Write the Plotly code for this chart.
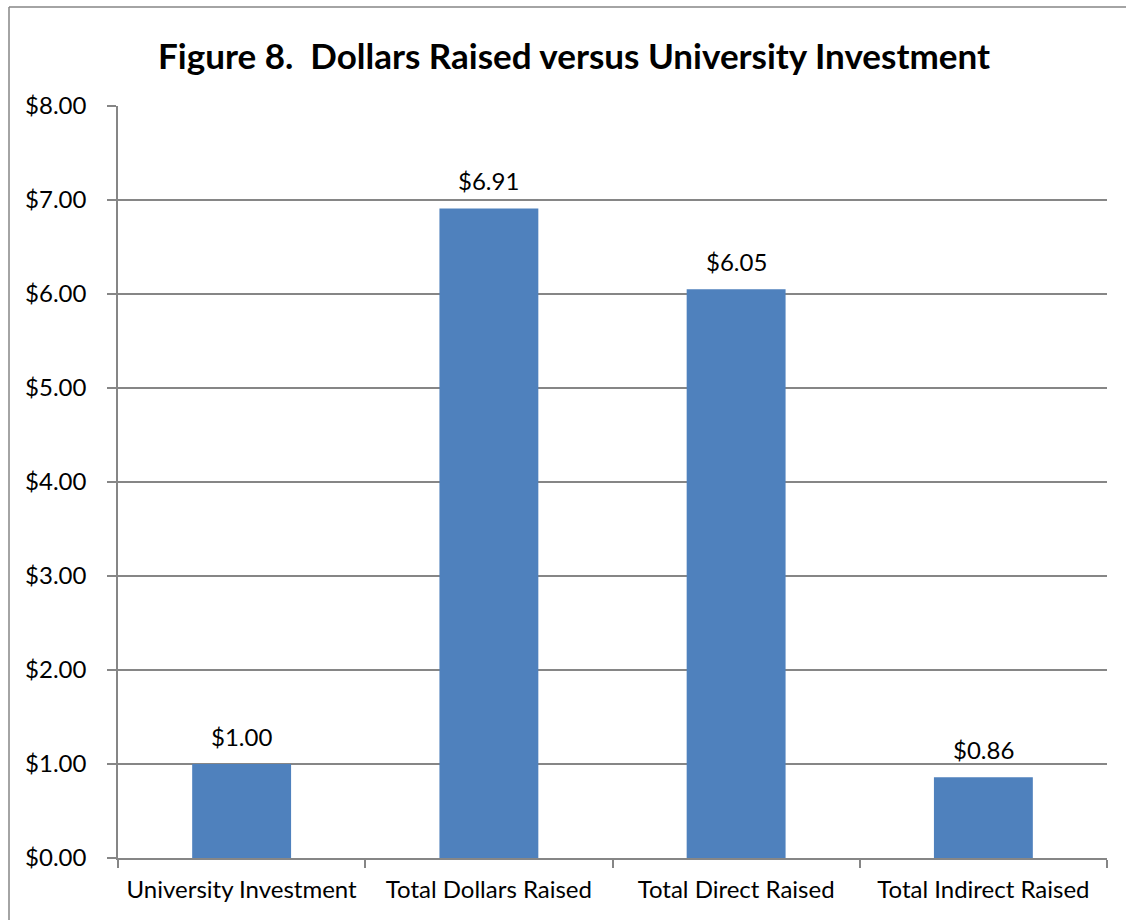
import plotly.graph_objects as go

categories = ["University Investment", "Total Dollars Raised", "Total Direct Raised", "Total Indirect Raised"]
values = [1.00, 6.91, 6.05, 0.86]
tick_values = [0, 1, 2, 3, 4, 5, 6, 7, 8]
tick_labels = ["$%.2f" % v for v in tick_values]
value_labels = ["$%.2f" % v for v in values]

W, H = 1126, 920
L, R, T, B = 118, 19, 106, 62
plot_w = W - L - R
plot_h = H - T - B

FONT = "Lato"
GRID = "#868686"

fig = go.Figure(
    go.Bar(
        x=categories,
        y=values,
        marker=dict(color="#4F81BD", line=dict(color="#4F81BD", width=0)),
        width=0.4,
        hoverinfo="x+y",
    )
)

# value labels above each bar
for cat, val, lab in zip(categories, values, value_labels):
    fig.add_annotation(
        x=cat, y=val, text=lab, showarrow=False,
        xanchor="center", yanchor="bottom", yshift=11,
        font=dict(family=FONT, size=24, color="#000000"),
    )

# outer chart frame (partially cut off at the right and bottom edges)
x0 = (9 - L) / plot_w
y_top = (H - B - 7) / plot_h
fig.add_shape(type="line", xref="paper", yref="paper", x0=x0, x1=(W + 10 - L) / plot_w,
              y0=y_top, y1=y_top, line=dict(color=GRID, width=1.5))
fig.add_shape(type="line", xref="paper", yref="paper", x0=x0, x1=x0,
              y0=y_top, y1=-(B + 10) / plot_h, line=dict(color=GRID, width=1.5))

fig.update_layout(
    width=W,
    height=H,
    margin=dict(l=L, r=R, t=T, b=B),
    paper_bgcolor="white",
    plot_bgcolor="white",
    showlegend=False,
    title=dict(
        text="<b>Figure 8.\u00a0\u00a0Dollars Raised versus University Investment</b>",
        x=574 / W,
        xanchor="center",
        y=1 - 57 / H,
        yanchor="middle",
        font=dict(family=FONT, size=35, color="#000000"),
    ),
    xaxis=dict(
        showline=True,
        linecolor=GRID,
        linewidth=1.5,
        ticks="outside",
        tickson="boundaries",
        ticklen=8,
        tickcolor=GRID,
        tickwidth=1.5,
        ticklabelstandoff=9,
        tickfont=dict(family=FONT, size=24, color="#000000"),
        showgrid=False,
    ),
    yaxis=dict(
        range=[0, 8],
        tickvals=tick_values,
        ticktext=tick_labels,
        showline=True,
        linecolor=GRID,
        linewidth=1.5,
        ticks="outside",
        ticklen=9,
        tickcolor=GRID,
        tickwidth=1.5,
        ticklabelstandoff=16,
        showgrid=True,
        gridcolor=GRID,
        gridwidth=1.5,
        zeroline=False,
        tickfont=dict(family=FONT, size=24, color="#000000"),
    ),
    bargap=0.6,
)

fig.write_html("out.html")
